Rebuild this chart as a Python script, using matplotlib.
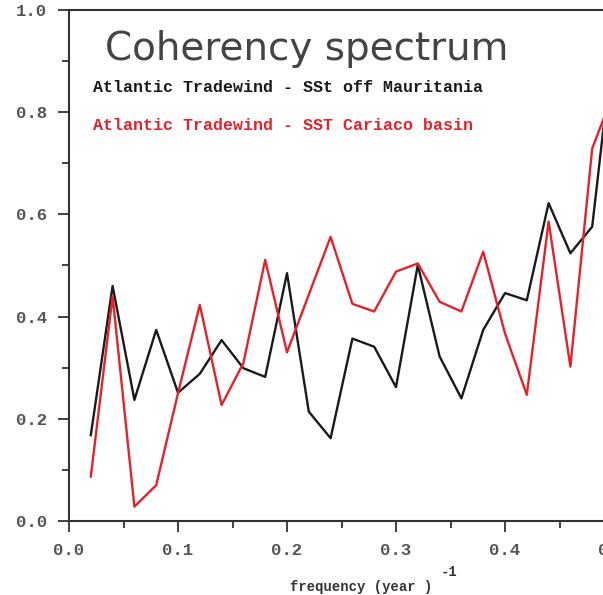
import numpy as np
import matplotlib
matplotlib.use("Agg")
import matplotlib.pyplot as plt
from matplotlib.ticker import MultipleLocator, FormatStrFormatter

freq = [0.02, 0.04, 0.06, 0.08, 0.10, 0.12, 0.14, 0.16, 0.18, 0.20,
        0.22, 0.24, 0.26, 0.28, 0.30, 0.32, 0.34, 0.36, 0.38, 0.40,
        0.42, 0.44, 0.46, 0.48, 0.50]
coh_mauritania = [0.168, 0.460, 0.237, 0.374, 0.251, 0.288, 0.354, 0.299, 0.282, 0.485,
                  0.214, 0.162, 0.357, 0.341, 0.262, 0.501, 0.322, 0.240, 0.374, 0.446,
                  0.432, 0.622, 0.524, 0.576, 0.950]
coh_cariaco = [0.087, 0.440, 0.028, 0.070, 0.250, 0.423, 0.227, 0.309, 0.511, 0.330,
               0.443, 0.556, 0.425, 0.410, 0.488, 0.504, 0.429, 0.410, 0.527, 0.367,
               0.247, 0.586, 0.302, 0.729, 0.840]
labels = ["Atlantic Tradewind - SSt off Mauritania",
          "Atlantic Tradewind - SST Cariaco basin"]

mono = "Liberation Mono"
red = "#e3222b"
dark = "#1a1a1a"

fig = plt.figure(figsize=(6.03, 5.95), dpi=100)
# plot area runs past the right edge of the figure
ax = fig.add_axes([69 / 603, 74 / 595, 545 / 603, 511 / 595])

ax.plot(freq, coh_mauritania, color=dark, lw=1.7)
ax.plot(freq, coh_cariaco, color=red, lw=1.7)

ax.set_xlim(0, 0.5)
ax.set_ylim(0, 1.0)
ax.xaxis.set_major_locator(MultipleLocator(0.1))
ax.xaxis.set_minor_locator(MultipleLocator(0.05))
ax.yaxis.set_major_locator(MultipleLocator(0.2))
ax.yaxis.set_minor_locator(MultipleLocator(0.1))
ax.xaxis.set_major_formatter(FormatStrFormatter("%.1f"))
ax.yaxis.set_major_formatter(FormatStrFormatter("%.1f"))

for s in ax.spines.values():
    s.set_color("#333333")
    s.set_linewidth(1.5)
ax.tick_params(which="major", direction="out", length=8, width=1.3,
               color="#333333", pad=8, labelcolor="#555555")
ax.tick_params(which="minor", direction="out", length=5, width=1.3,
               color="#333333")
for lab in ax.get_xticklabels() + ax.get_yticklabels():
    lab.set_fontfamily(mono)
    lab.set_fontweight("bold")
    lab.set_fontsize(12.5)

ax.text(0.066, 0.902, "Coherency spectrum", transform=ax.transAxes,
        fontsize=28, color="#444444", family="DejaVu Sans", va="baseline")
ax.text(0.044, 0.8395, labels[0], transform=ax.transAxes, fontsize=12,
        family=mono, weight="bold", color=dark, va="baseline")
ax.text(0.044, 0.765, labels[1], transform=ax.transAxes, fontsize=12,
        family=mono, weight="bold", color=red, va="baseline")

fig.text(290 / 603, 1 - 591 / 595, "frequency (year )", fontsize=10,
         family=mono, weight="bold", color="#333333", va="baseline")
fig.text(441 / 603, 1 - 576 / 595, "-1", fontsize=10,
         family=mono, weight="bold", color="#333333", va="baseline")

fig.savefig("out.png", dpi=100)
